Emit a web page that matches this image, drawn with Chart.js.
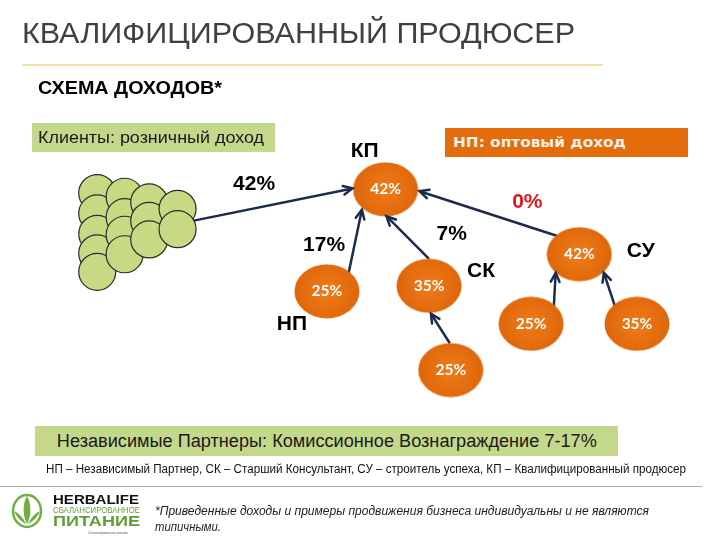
<!DOCTYPE html>
<html>
<head>
<meta charset="utf-8">
<script src="https://cdn.jsdelivr.net/npm/chart.js@4"></script>
<style>
  body { margin: 0; background: #fff; }
  #slide { position: relative; width: 720px; height: 540px; overflow: hidden; font-family: "Liberation Sans", Arial, sans-serif; }
  #myChart { position: absolute; left: 0; top: 0; }
  .abs { position: absolute; white-space: nowrap; }
  .fit { display: inline-block; transform-origin: left center; }
  .title { left: 22px; top: 15px; font-size: 30px; line-height: 36px; color: #404040; }
  .rule { left: 22px; top: 64px; width: 581px; height: 2px; background: #f2e2a6; }
  .sub { left: 38px; top: 77px; font-size: 18px; line-height: 22px; font-weight: bold; color: #000; }
  .box-green { background: #c4d88c; color: #1a1a1a; }
  .clients { left: 32px; top: 123px; width: 243px; height: 29px; font-size: 16.5px; line-height: 29px; padding-left: 6px; box-sizing: border-box; }
  .wholesale { left: 445px; top: 128px; width: 243px; height: 29px; background: #e46c0a; color: #f4f0ec; font-family: "DejaVu Sans", sans-serif; font-weight: bold; font-size: 14.5px; line-height: 29px; padding-left: 8px; box-sizing: border-box; }
  .partners { left: 35px; top: 426px; width: 583px; height: 30px; font-size: 18px; line-height: 30px; text-align: center; }
  .legend { left: 46px; top: 461px; font-size: 12px; line-height: 16px; color: #111; }
  .grayline { left: 0; top: 486px; width: 702px; height: 1px; background: #a8a8a8; }
  .note { left: 155px; top: 503px; font-size: 12.5px; line-height: 16px; font-style: italic; color: #222; }
  .logo { left: 10px; top: 490px; }
</style>
</head>
<body>
<div id="slide">
  <canvas id="myChart" width="720" height="540"></canvas>
  <div class="abs title"><span class="fit" data-w="553">КВАЛИФИЦИРОВАННЫЙ ПРОДЮСЕР</span></div>
  <div class="abs rule"></div>
  <div class="abs sub"><span class="fit" data-w="184">СХЕМА ДОХОДОВ*</span></div>
  <div class="abs box-green clients"><span class="fit" data-w="226">Клиенты: розничный доход</span></div>
  <div class="abs wholesale"><span class="fit" data-w="173">НП: оптовый доход</span></div>
  <div class="abs box-green partners"><span class="fit" data-w="540" data-center="1">Независимые Партнеры: Комиссионное Вознаграждение 7-17%</span></div>
  <div class="abs legend"><span class="fit" data-w="640">НП – Независимый Партнер, СК – Старший Консультант, СУ – строитель успеха, КП – Квалифицированный продюсер</span></div>
  <div class="abs grayline"></div>
  <div class="abs logo">
    <svg width="135" height="48" viewBox="0 0 135 48">
      <ellipse cx="17" cy="21" rx="14" ry="16" fill="none" stroke="#6fae3f" stroke-width="2.4"/>
      <path d="M17 6 C12.5 13 12.5 26 17 34 C21.5 26 21.5 13 17 6 Z" fill="#6fae3f"/>
      <path d="M4 21 C7 28 12 32 16 34 C13 28 9 23 4 21 Z" fill="#6fae3f"/>
      <path d="M30 21 C27 28 22 32 18 34 C21 28 25 23 30 21 Z" fill="#6fae3f"/>
      <text x="43" y="14" font-family="Liberation Sans, Arial" font-weight="bold" font-size="13" fill="#111" textLength="86" lengthAdjust="spacingAndGlyphs">HERBALIFE</text>
      <text x="43" y="23" font-family="Liberation Sans, Arial" font-size="8.5" fill="#5f9e35" textLength="87" lengthAdjust="spacingAndGlyphs">СБАЛАНСИРОВАННОЕ</text>
      <text x="43" y="36" font-family="Liberation Sans, Arial" font-weight="bold" font-size="14" fill="#5f9e35" textLength="87" lengthAdjust="spacingAndGlyphs">ПИТАНИЕ</text>
      <text x="78" y="44" font-family="Liberation Sans, Arial" font-size="4" fill="#555" textLength="40" lengthAdjust="spacingAndGlyphs">Сбалансированное питание</text>
    </svg>
  </div>
  <div class="abs note"><span class="fit" data-w="494">*Приведенные доходы и примеры продвижения бизнеса индивидуальны и не являются</span><br><span class="fit" data-w="66">типичными.</span></div>
</div>
<script>
// клиенты: зелёные кружки (координаты на схеме)
const clientX = [82, 82, 82, 82, 82, 111, 111, 111, 111, 137, 137, 137, 167, 167];
const clientY = [187, 209, 231, 252, 272, 191, 213, 232, 253, 197, 217, 237, 204, 226];

// партнёры: оранжевые овалы
const nodeX = [387, 325, 433, 456, 592, 541, 653];
const nodeY = [183, 293, 287, 378, 253, 328, 328];
const nodeValues = ["42%", "25%", "35%", "25%", "42%", "25%", "35%"];

// стрелки: откуда -> куда
const arrowFromX = [183, 348, 433, 455, 568, 565, 630];
const arrowFromY = [217, 273, 258, 349, 233, 310, 310];
const arrowToX = [352, 362, 388, 435, 423, 567, 618];
const arrowToY = [182, 205, 212, 317, 185, 273, 273];

// подписи уровней
const roleNames = ["КП", "НП", "СК", "СУ"];
const roleX = [365, 288, 488, 657];
const roleY = [142, 328, 271, 250];

// проценты у стрелок
const rateNames = ["42%", "17%", "7%", "0%"];
const rateX = [248, 322, 457, 537];
const rateY = [177, 243, 231, 197];
const rateRed = [false, false, false, true];

// подгонка ширины текстов
document.querySelectorAll('.fit').forEach(el => {
    const target = +el.dataset.w;
    const w = el.getBoundingClientRect().width;
    const s = target / w;
    el.style.transform = 'scaleX(' + s + ')';
    if (el.dataset.center) {
        el.style.transformOrigin = 'center center';
    }
});

function ovalImage(w, h) {
    const c = document.createElement('canvas');
    c.width = w; c.height = h;
    const g = c.getContext('2d');
    const grad = g.createRadialGradient(w / 2, h / 2, 3, w / 2, h / 2, w / 2);
    grad.addColorStop(0, '#ef7a18');
    grad.addColorStop(1, '#de660a');
    g.fillStyle = grad;
    g.beginPath();
    g.ellipse(w / 2, h / 2, w / 2 - 0.5, h / 2 - 0.5, 0, 0, Math.PI * 2);
    g.fill();
    return c;
}

const oval = ovalImage(66, 55);
const arrowColor = '#1c2b4a';

const arrowSets = arrowFromX.map((fx, i) => ({
    data: [{x: fx, y: arrowFromY[i]}, {x: arrowToX[i], y: arrowToY[i]}],
    showLine: true,
    pointRadius: 0,
    borderColor: arrowColor,
    borderWidth: 2.5,
    order: 3
}));

const labelPlugin = {
    id: 'labels',
    afterDatasetsDraw(chart) {
        const ctx = chart.ctx;
        const xs = chart.scales.x, ys = chart.scales.y;
        ctx.save();
        // наконечники стрелок
        ctx.strokeStyle = arrowColor;
        ctx.lineWidth = 2.5;
        ctx.lineCap = 'round';
        arrowToX.forEach((tx, i) => {
            const px = xs.getPixelForValue(tx), py = ys.getPixelForValue(arrowToY[i]);
            const qx = xs.getPixelForValue(arrowFromX[i]), qy = ys.getPixelForValue(arrowFromY[i]);
            const a = Math.atan2(py - qy, px - qx);
            const len = 10;
            ctx.beginPath();
            ctx.moveTo(px - len * Math.cos(a - 0.45), py - len * Math.sin(a - 0.45));
            ctx.lineTo(px, py);
            ctx.lineTo(px - len * Math.cos(a + 0.45), py - len * Math.sin(a + 0.45));
            ctx.stroke();
        });
        ctx.textAlign = 'center';
        ctx.textBaseline = 'middle';
        // проценты в овалах
        ctx.fillStyle = '#ffffff';
        ctx.font = 'bold 15.5px Lato, "Open Sans", sans-serif';
        nodeValues.forEach((v, i) => {
            ctx.fillText(v, xs.getPixelForValue(nodeX[i]), ys.getPixelForValue(nodeY[i]));
        });
        // уровни
        ctx.font = 'bold 21px "Liberation Sans", Arial, sans-serif';
        ctx.fillStyle = '#000';
        roleNames.forEach((r, i) => {
            ctx.fillText(r, xs.getPixelForValue(roleX[i]), ys.getPixelForValue(roleY[i]));
        });
        rateNames.forEach((r, i) => {
            ctx.fillStyle = rateRed[i] ? '#e3171b' : '#000';
            ctx.fillText(r, xs.getPixelForValue(rateX[i]), ys.getPixelForValue(rateY[i]));
        });
        ctx.restore();
    }
};

const ctx = document.getElementById('myChart').getContext('2d');

const chart = new Chart(ctx, {
    type: 'scatter',
    data: {
        datasets: [
            ...arrowSets,
            {
                data: clientX.map((x, i) => ({x: x, y: clientY[i]})),
                pointRadius: 18.5,
                pointBackgroundColor: '#c6da84',
                pointBorderColor: '#2a2a2a',
                pointBorderWidth: 1.2,
                order: 2
            },
            {
                data: nodeX.map((x, i) => ({x: x, y: nodeY[i]})),
                pointStyle: oval,
                order: 1
            }
        ]
    },
    options: {
        responsive: false,
        animation: false,
        devicePixelRatio: 1,
        layout: { padding: 0 },
        scales: {
            x: { type: 'linear', min: 0, max: 720, display: false },
            y: { type: 'linear', min: 0, max: 540, reverse: true, display: false }
        },
        plugins: {
            legend: { display: false },
            tooltip: { enabled: false }
        }
    },
    plugins: [labelPlugin]
});
</script>
</body>
</html>
